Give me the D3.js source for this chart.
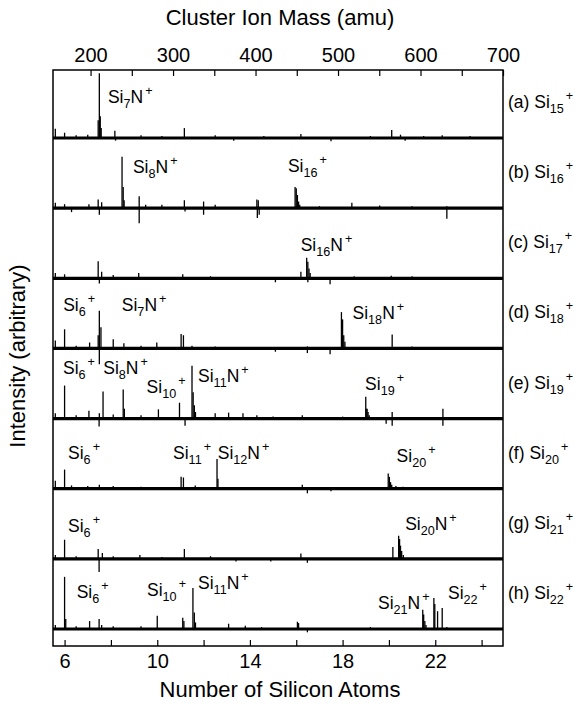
<!DOCTYPE html>
<html>
<head>
<meta charset="utf-8">
<script src="https://cdn.jsdelivr.net/npm/d3@7"></script>
<style>
  body { margin: 0; background: #fff; }
  text { font-family: "Liberation Sans", Arial, sans-serif; fill: #000; }
</style>
</head>
<body>
<svg width="578" height="709"></svg>
<script>
// Si atomic mass, used to link the two x axes
var SI_MASS = 28.0855;

// panel ids and parent cluster labels (right side)
var panels = ["a", "b", "c", "d", "e", "f", "g", "h"];
var parents = ["(a) Si_15^+", "(b) Si_16^+", "(c) Si_17^+", "(d) Si_18^+",
	"(e) Si_19^+", "(f) Si_20^+", "(g) Si_21^+", "(h) Si_22^+"];

// ticks
var atomTicks = [6, 8, 10, 12, 14, 16, 18, 20, 22, 24];
var atomLabels = [6, 10, 14, 18, 22];
var massTicks = [200, 250, 300, 350, 400, 450, 500, 550, 600, 650, 700];
var massLabels = [200, 300, 400, 500, 600, 700];

// peaks per panel: [number of Si atoms, intensity (arbitrary)]
var peaksA = [[5.6, 14], [6.0, 8], [6.5, 4], [7.0, 5], [7.45, 27], [7.5, 98], [7.54, 33], [7.58, 15],
	[8.17, 11], [8.2, -4], [9.3, 4], [10.2, 3], [11.17, 15], [12.5, 4], [13.3, -4], [14.6, 3],
	[16.2, 6], [17.5, -5], [19.2, 3], [20.12, 12], [20.5, 5], [20.7, -4], [21.5, 3], [22.3, 4], [23.5, 3]];
var peaksB = [[5.6, 8], [6.0, 6], [6.3, -6], [7.05, 6], [7.45, 13], [7.5, -10], [7.6, 9],
	[8.48, 78], [8.53, 32], [8.57, 12], [9.22, 18], [9.22, -23], [9.5, 5], [10.2, 5], [11.17, 12],
	[11.2, -5], [12.0, 10], [12.0, -10], [12.5, 5], [14.3, 13], [14.32, -15], [14.36, 12], [14.4, -10],
	[15.95, 32], [16.0, 30], [16.05, 20], [16.1, 10], [16.15, 5], [17.0, 3], [18.4, 8], [19.6, 4],
	[21.0, 3], [22.5, -16], [22.5, 3]];
var peaksC = [[5.6, 8], [6.0, 6], [7.45, 26], [7.5, -8], [7.6, 10], [8.1, 5], [9.2, 8], [11.1, 6],
	[12.3, 3], [15.1, -6], [16.2, 10], [16.45, 31], [16.5, 25], [16.55, 15], [16.6, 8], [16.5, -6],
	[17.46, -9], [18.5, 3], [20.1, 4], [21.0, 3]];
var peaksD = [[5.6, 12], [6.0, 29], [6.5, 4], [7.08, 9], [7.45, 20], [7.5, 57], [7.57, 32], [7.5, -24],
	[8.1, 14], [8.56, 8], [9.3, 4], [9.98, 9], [11.03, 22], [11.13, 20], [11.5, 4], [12.5, 3],
	[15.1, -5], [16.48, -7], [16.48, 3], [17.46, -9], [17.95, 55], [18.0, 44], [18.05, 20], [18.1, 10],
	[20.14, 21], [21.0, 3]];
var peaksE = [[5.6, 8], [6.0, 50], [6.5, 5], [7.05, 12], [7.49, -12], [7.5, 8], [7.66, 41], [8.1, 6],
	[8.53, 44], [8.58, 15], [9.3, 5], [10.05, 14], [10.96, 24], [11.2, -11], [11.5, 80], [11.55, 40],
	[11.6, 20], [11.65, 10], [12.5, 8], [13.08, 9], [13.7, 8], [14.3, 5], [15.0, 3], [16.26, 5],
	[18.0, 3], [19.0, 33], [19.02, 15], [19.06, 15], [19.1, 10], [19.15, 5], [19.88, -8], [20.14, 10],
	[20.14, -11], [22.33, 15], [22.33, -11]];
var peaksF = [[5.6, 12], [6.0, 29], [6.3, 5], [7.0, 4], [7.5, 6], [8.1, 4], [9.3, 3], [11.03, 18],
	[11.13, 17], [11.64, 5], [12.58, 45], [12.62, 15], [16.26, 6], [16.48, -7], [17.5, -4],
	[19.97, 23], [20.02, 18], [20.07, 10], [20.12, 6], [20.3, 4], [20.6, 3]];
var peaksG = [[5.6, 6], [6.0, 29], [6.5, 4], [7.45, 15], [7.49, -20], [7.63, 9], [8.1, 4], [9.25, 6],
	[10.2, 3], [11.17, 15], [12.3, 4], [13.4, -4], [14.9, -4], [16.2, 8], [16.48, -6], [20.17, 18],
	[20.42, 35], [20.46, 30], [20.5, 20], [20.55, 12], [20.62, 6]];
var peaksH = [[5.6, 6], [6.0, 79], [6.05, 15], [6.5, 4], [7.08, 12], [7.49, 15], [7.6, 6], [8.1, 4],
	[9.3, 4], [10.0, 20], [11.1, 17], [11.15, 12], [11.54, 62], [11.6, 25], [11.65, 10], [13.08, 8],
	[13.8, 5], [14.5, 3], [16.05, 11], [16.1, 9], [16.48, -5], [19.2, 3], [21.46, 29], [21.5, 22],
	[21.55, 12], [21.6, 6], [21.94, 47], [21.98, 38], [22.1, 27], [22.3, 32], [22.5, 3]];
var peaks = [peaksA, peaksB, peaksC, peaksD, peaksE, peaksF, peaksG, peaksH];

// peak labels: [atoms at text start, intensity at text baseline, text]
var labelsA = [[7.87, 53, "Si_7N^+"]];
var labelsB = [[8.95, 53, "Si_8N^+"], [15.64, 55, "Si_16^+"]];
var labelsC = [[16.19, 41, "Si_16N^+"]];
var labelsD = [[5.94, 57, "Si_6^+"], [8.47, 57, "Si_7N^+"], [18.43, 45, "Si_18N^+"]];
var labelsE = [[5.93, 67, "Si_6^+"], [7.67, 67, "Si_8N^+"], [9.54, 39, "Si_10^+"], [11.76, 55, "Si_11N^+"], [18.97, 44, "Si_19^+"]];
var labelsF = [[6.15, 45, "Si_6^+"], [10.68, 45, "Si_11^+"], [12.61, 45, "Si_12N^+"], [20.33, 40, "Si_20^+"]];
var labelsG = [[6.15, 41, "Si_6^+"], [20.7, 44, "Si_20N^+"]];
var labelsH = [[6.52, 47, "Si_6^+"], [9.56, 50, "Si_10^+"], [11.76, 61, "Si_11N^+"], [19.53, 30, "Si_21N^+"], [22.55, 45, "Si_22^+"]];
var labels = [labelsA, labelsB, labelsC, labelsD, labelsE, labelsF, labelsG, labelsH];

var margin = { top: 70, left: 53 },
	width = 450,
	height = 576;

var svg = d3.select("svg");
var g = svg.append("g").attr("transform", "translate(" + margin.left + "," + margin.top + ")");

var x = d3.scaleLinear().domain([5.5, 700 / SI_MASS]).range([0, width]);
var xMass = d3.scaleLinear().domain(x.domain().map((d) => d * SI_MASS)).range([0, width]);
var band = d3.scalePoint().domain(panels).range([68, 559]);
var y = d3.scaleLinear().domain([0, 100]).range([0, -66]);

// Si_7N^+  ->  Si, sub 7, N, sup +
function richText(sel, str, size) {
	var parts = str.match(/_\d+|\^\+|[^_^]+/g);
	var shift = 0;
	parts.forEach(function (p) {
		var t = sel.append("tspan");
		if (p[0] === "_") {
			t.text(p.slice(1)).attr("font-size", size * 0.72).attr("dy", 5 - shift);
			shift = 5;
		} else if (p[0] === "^") {
			t.text(p.slice(1)).attr("font-size", size * 0.72).attr("dx", 2).attr("dy", -8 - shift);
			shift = -8;
		} else {
			t.text(p).attr("dy", -shift);
			shift = 0;
		}
	});
}

// Panels
panels.forEach(function (id, i) {
	var p = g.append("g").attr("transform", "translate(0," + band(id) + ")");

	// thick noisy baseline
	p.append("line")
		.attr("x1", 0).attr("x2", width)
		.attr("stroke", "#000").attr("stroke-width", 3.2);

	p.selectAll("line.peak")
		.data(peaks[i])
		.enter().append("line")
		.attr("class", "peak")
		.attr("x1", (d) => x(d[0])).attr("x2", (d) => x(d[0]))
		.attr("y1", 0).attr("y2", (d) => y(d[1]))
		.attr("stroke", "#000").attr("stroke-width", 1.3);

	labels[i].forEach(function (l) {
		var t = p.append("text")
			.attr("x", x(l[0])).attr("y", y(l[1]))
			.attr("font-size", 17.5);
		richText(t, l[2], 17.5);
	});

	var t = p.append("text")
		.attr("x", width + 5).attr("y", -30)
		.attr("font-size", 17.5);
	richText(t, parents[i], 17.5);
});

// Axes
g.append("g")
	.attr("transform", "translate(0," + height + ")")
	.call(d3.axisBottom(x).tickValues(atomTicks).tickSize(-6).tickPadding(8)
		.tickFormat((d) => atomLabels.indexOf(d) >= 0 ? d : ""))
	.call((a) => a.select(".domain").remove())
	.call((a) => a.selectAll("text").attr("font-size", 20).attr("font-family", null))
	.call((a) => a.selectAll("line").attr("stroke-width", 1.2));

g.append("g")
	.call(d3.axisTop(xMass).tickValues(massTicks).tickSize(-6).tickPadding(8)
		.tickFormat((d) => massLabels.indexOf(d) >= 0 ? d : ""))
	.call((a) => a.select(".domain").remove())
	.call((a) => a.selectAll("text").attr("font-size", 20).attr("font-family", null))
	.call((a) => a.selectAll("line").attr("stroke-width", 1.2));

// Frame
g.append("rect")
	.attr("width", width).attr("height", height)
	.attr("fill", "none").attr("stroke", "#000").attr("stroke-width", 1.5);

// Titles
svg.append("text")
	.attr("x", margin.left + width / 2 + 2).attr("y", 25)
	.attr("text-anchor", "middle").attr("font-size", 22)
	.text("Cluster Ion Mass (amu)");

svg.append("text")
	.attr("x", margin.left + width / 2 + 2).attr("y", 697)
	.attr("text-anchor", "middle").attr("font-size", 22)
	.text("Number of Silicon Atoms");

svg.append("text")
	.attr("transform", "translate(25," + (margin.top + height / 2 - 2) + ") rotate(-90)")
	.attr("text-anchor", "middle").attr("font-size", 22)
	.text("Intensity (arbitrary)");
</script>
</body>
</html>
